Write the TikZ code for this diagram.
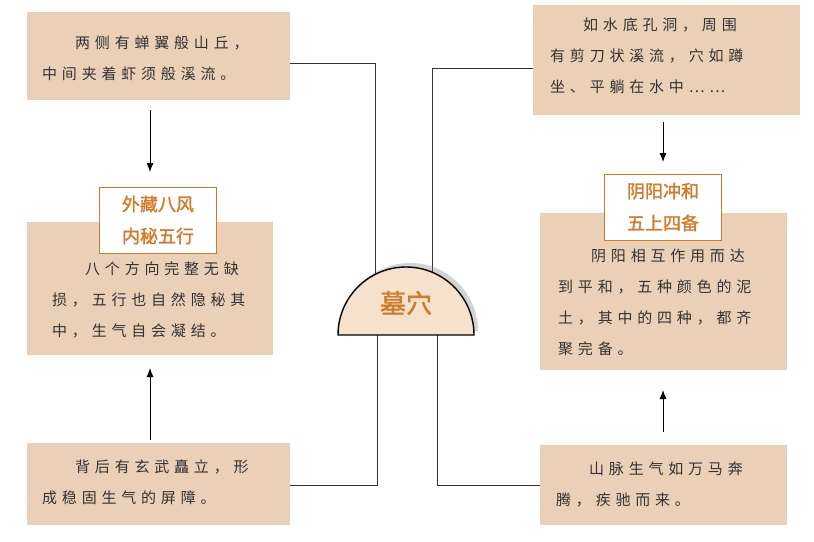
\documentclass[tikz,border=0pt]{standalone}
\usepackage{fontspec}
\newfontfamily\cjk[LetterSpace=32]{Noto Sans CJK SC}
\newfontfamily\cjkb[FakeBold=1.5]{Noto Sans CJK SC}
\usetikzlibrary{shadows,arrows.meta}
\definecolor{tan}{HTML}{EBD0B8}
\definecolor{dome}{HTML}{F5E1CC}
\definecolor{ochre}{HTML}{D07A2A}
\begin{document}
\begin{tikzpicture}[
                x=1pt,y=-1pt,
                box/.style={fill=tan,draw=none},
                body/.style={font=\cjk\fontsize{15}{31}\selectfont,text=black!80,align=left,inner sep=0},
                tag/.style={draw=ochre,fill=white,line width=0.8pt,text=ochre,font=\cjkb\fontsize{18}{32}\selectfont,align=center,minimum width=117pt,minimum height=66pt},
                wire/.style={draw=black!80,line width=0.7pt},
                arr/.style={-{Latex[length=9pt,width=7pt]},draw=black,line width=0.9pt},
                ]
                \useasboundingbox (0,0) rectangle (814,541);
                % paper boxes
                \fill[box] (27,12) rectangle (290,100);
                \fill[box] (533,5) rectangle (800,115);
                \fill[box] (27,222) rectangle (273,355);
                \fill[box] (540,213) rectangle (787,370);
                \fill[box] (27,443) rectangle (290,525);
                \fill[box] (540,445) rectangle (787,525);
                \coordinate (tl) at (290,63);
                \coordinate (tr) at (533,68);
                \coordinate (bl) at (290,485);
                \coordinate (br) at (540,485);
                % texts
                \node[body,anchor=north west] (t1) at (42,36) {\hspace*{2.2em}两侧有蝉翼般山丘，\\中间夹着虾须般溪流。};
                \node[body,anchor=north west] (t2) at (550,18) {\hspace*{2.2em}如水底孔洞，周围\\有剪刀状溪流，穴如蹲\\坐、平躺在水中……};
                \node[body,anchor=north west] (t3) at (52,262) {\hspace*{2.2em}八个方向完整无缺\\损，五行也自然隐秘其\\中，生气自会凝结。};
                \node[body,anchor=north west] (t4) at (558,249) {\hspace*{2.2em}阴阳相互作用而达\\到平和，五种颜色的泥\\土，其中的四种，都齐\\聚完备。};
                \node[body,anchor=north west] (t5) at (42,460) {\hspace*{2.2em}背后有玄武矗立，形\\成稳固生气的屏障。};
                \node[body,anchor=north west] (t6) at (556,462) {\hspace*{2.2em}山脉生气如万马奔\\腾，疾驰而来。};
                % labels
                \node[tag] (w) at (158,220) {外藏八风\\内秘五行};
                \node[tag] (y) at (663,207) {阴阳冲和\\五上四备};
                % centre
                \coordinate (a) at (375,275);
                \coordinate (b) at (432,272);
                \coordinate (c) at (377,335);
                \coordinate (d) at (437,335);
                \draw[wire] (tl) -| (a);
                \draw[wire] (tr) -| (b);
                \draw[wire] (c) |- (bl);
                \draw[wire] (d) |- (br);
                \fill[dome,drop shadow={opacity=0.35,shadow xshift=4pt,shadow yshift=4pt}] (338,335) arc[start angle=180,end angle=360,radius=68] -- cycle;
                \draw[line width=1.4pt] (338,335) arc[start angle=180,end angle=360,radius=68] -- cycle;
                \node[text=ochre,font=\cjkb\fontsize{26}{26}\selectfont] (mu) at (406,303) {墓穴};
                % arrows
                \coordinate (p1) at (150,110); \coordinate (q1) at (150,172);
                \coordinate (p2) at (150,440); \coordinate (q2) at (150,368);
                \coordinate (p3) at (663,122); \coordinate (q3) at (663,162);
                \coordinate (p4) at (663,432); \coordinate (q4) at (663,390);
                \draw[arr] (p1) -- (q1);
                \draw[arr] (p2) -- (q2);
                \draw[arr] (p3) -- (q3);
                \draw[arr] (p4) -- (q4);
            \end{tikzpicture}
\end{document}
